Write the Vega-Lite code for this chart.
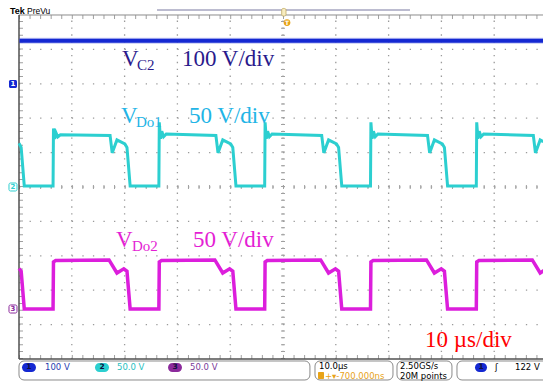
{
"$schema": "https://vega.github.io/schema/vega-lite/v6.json",
"width": 543, "height": 381, "autosize": {"type": "none"}, "padding": 0,
"background": "#ffffff",
"config": {"view": {"stroke": null}},
"datasets": {
"c2": [{"t":0.1,"v":9.25},{"t":99.3,"v":9.25}],
"do1": [{"t":0.0,"v":6.27},{"t":0.41,"v":6.15},{"t":1.0,"v":5.03},
{"t":6.45,"v":5.03},{"t":6.53,"v":6.7},{"t":6.75,"v":6.40},{"t":7.0,"v":6.58},{"t":7.35,"v":6.46},{"t":7.85,"v":6.52},{"t":17.25,"v":6.5},{"t":17.65,"v":5.99},{"t":18.55,"v":6.37},{"t":20.05,"v":6.25},{"t":20.45,"v":6.15},{"t":21.05,"v":5.03},
{"t":26.49,"v":5.03},{"t":26.57,"v":6.88},{"t":26.79,"v":6.40},{"t":27.04,"v":6.62},{"t":27.39,"v":6.46},{"t":27.89,"v":6.54},{"t":37.29,"v":6.5},{"t":37.69,"v":5.99},{"t":38.59,"v":6.37},{"t":40.09,"v":6.25},{"t":40.49,"v":6.15},{"t":41.09,"v":5.03},
{"t":46.53,"v":5.03},{"t":46.61,"v":6.88},{"t":46.83,"v":6.40},{"t":47.08,"v":6.62},{"t":47.43,"v":6.46},{"t":47.93,"v":6.54},{"t":57.33,"v":6.5},{"t":57.73,"v":5.99},{"t":58.63,"v":6.37},{"t":60.13,"v":6.25},{"t":60.53,"v":6.15},{"t":61.13,"v":5.03},
{"t":66.57,"v":5.03},{"t":66.65,"v":6.88},{"t":66.87,"v":6.40},{"t":67.12,"v":6.62},{"t":67.47,"v":6.46},{"t":67.97,"v":6.54},{"t":77.37,"v":6.5},{"t":77.77,"v":5.99},{"t":78.67,"v":6.37},{"t":80.17,"v":6.25},{"t":80.57,"v":6.15},{"t":81.17,"v":5.03},
{"t":86.61,"v":5.03},{"t":86.69,"v":6.88},{"t":86.91,"v":6.40},{"t":87.16,"v":6.62},{"t":87.51,"v":6.46},{"t":88.01,"v":6.54},{"t":97.41,"v":6.5},{"t":97.81,"v":5.99},{"t":98.71,"v":6.37},{"t":100.21,"v":6.25}],
"do2": [{"t":0.0,"v":2.63},{"t":0.41,"v":2.55},{"t":1.0,"v":1.45},
{"t":6.45,"v":1.45},{"t":6.53,"v":2.82},{"t":6.95,"v":2.86},{"t":17.05,"v":2.88},{"t":18.55,"v":2.50},{"t":19.85,"v":2.62},{"t":20.45,"v":2.55},{"t":21.05,"v":1.45},
{"t":26.49,"v":1.45},{"t":26.57,"v":2.82},{"t":26.99,"v":2.86},{"t":37.09,"v":2.88},{"t":38.59,"v":2.50},{"t":39.89,"v":2.62},{"t":40.49,"v":2.55},{"t":41.09,"v":1.45},
{"t":46.53,"v":1.45},{"t":46.61,"v":2.82},{"t":47.03,"v":2.86},{"t":57.13,"v":2.88},{"t":58.63,"v":2.50},{"t":59.93,"v":2.62},{"t":60.53,"v":2.55},{"t":61.13,"v":1.45},
{"t":66.57,"v":1.45},{"t":66.65,"v":2.82},{"t":67.07,"v":2.86},{"t":77.17,"v":2.88},{"t":78.67,"v":2.50},{"t":79.97,"v":2.62},{"t":80.57,"v":2.55},{"t":81.17,"v":1.45},
{"t":86.61,"v":1.45},{"t":86.69,"v":2.82},{"t":87.11,"v":2.86},{"t":97.21,"v":2.88},{"t":98.71,"v":2.50},{"t":99.91,"v":2.62}],
"hgrid": [{"t":0,"t2":99.3,"v":1},{"t":0,"t2":99.3,"v":2},{"t":0,"t2":99.3,"v":3},{"t":0,"t2":99.3,"v":4},{"t":0,"t2":99.3,"v":5},{"t":0,"t2":99.3,"v":6},{"t":0,"t2":99.3,"v":7},{"t":0,"t2":99.3,"v":8},{"t":0,"t2":99.3,"v":9}],
"vgrid": [{"t":10,"v":0,"v2":10},{"t":20,"v":0,"v2":10},{"t":30,"v":0,"v2":10},{"t":40,"v":0,"v2":10},{"t":50,"v":0,"v2":10},{"t":60,"v":0,"v2":10},{"t":70,"v":0,"v2":10},{"t":80,"v":0,"v2":10},{"t":90,"v":0,"v2":10}],
"big": [{"t":19.5,"v":8.52,"label":"V","ch":"c2lab"},{"t":30.87,"v":8.52,"label":"100 V/div","ch":"c2lab"},
{"t":19.32,"v":6.86,"label":"V","ch":"do1lab"},{"t":32.2,"v":6.86,"label":"50 V/div","ch":"do1lab"},
{"t":18.37,"v":3.26,"label":"V","ch":"do2lab"},{"t":32.95,"v":3.26,"label":"50 V/div","ch":"do2lab"},
{"t":76.9,"v":0.35,"label":"10 µs/div","ch":"time"}],
"sub": [{"t":22.35,"v":8.40,"label":"C2","ch":"c2lab"},{"t":22.16,"v":6.74,"label":"Do1","ch":"do1lab"},{"t":21.4,"v":3.14,"label":"Do2","ch":"do2lab"}],
"boxes": [{"t":0,"t2":55.1,"v":-0.058,"v2":-0.61},{"t":56.06,"t2":70.83,"v":-0.058,"v2":-0.61},{"t":71.59,"t2":82.0,"v":-0.058,"v2":-0.61},{"t":82.95,"t2":100.6,"v":-0.058,"v2":-0.61}],
"ovals": [{"t":0.568,"t2":3.22,"v":-0.116,"v2":-0.378,"ch":"ch1"},{"t":14.39,"t2":17.05,"v":-0.116,"v2":-0.378,"ch":"ch2"},{"t":28.22,"t2":30.87,"v":-0.116,"v2":-0.378,"ch":"ch3m"},{"t":86.36,"t2":88.64,"v":-0.116,"v2":-0.378,"ch":"ch1"}],
"ovaltext": [{"t":1.89,"v":-0.247,"label":"1","ch":"ink"},{"t":15.72,"v":-0.247,"label":"2","ch":"ink"},{"t":29.55,"v":-0.247,"label":"3","ch":"ink"},{"t":87.5,"v":-0.247,"label":"1","ch":"ink"}],
"status": [{"t":4.92,"v":-0.247,"label":"100 V","ch":"ch1t"},{"t":18.56,"v":-0.247,"label":"50.0 V","ch":"ch2t"},{"t":32.39,"v":-0.247,"label":"50.0 V","ch":"ch3t"},
{"t":56.82,"v":-0.203,"label":"10.0µs","ch":"black"},{"t":57.95,"v":-0.48,"label":"+▾-700.000ns","ch":"orange"},
{"t":72.16,"v":-0.203,"label":"2.50GS/s","ch":"black"},{"t":72.16,"v":-0.48,"label":"20M points","ch":"black"},
{"t":90.15,"v":-0.247,"label":"ʃ","ch":"black"},{"t":93.94,"v":-0.247,"label":"122 V","ch":"black"}]
},
"encoding": {
"x": {"field":"t","type":"quantitative","scale":{"domain":[-3.598,99.242],"nice":false,"zero":false},"axis":null},
"y": {"field":"v","type":"quantitative","scale":{"domain":[-0.6395,10.436],"nice":false,"zero":false},"axis":null},
"color": {"field":"ch","type":"nominal","legend":null,"scale":{"domain":["c2lab","do1lab","do2lab","time","ch1","ch2","ch3m","ch1t","ch2t","ch3t","orange","black","ink","white"],"range":["#2a1a8c","#22b4e6","#e41ed4","#ff0000","#1428d2","#2ccfd0","#8c2a9c","#2840b0","#28c0c0","#7a3a9a","#e8a317","#000000","#101040","#ffffff"]}}
},
"layer": [
{"data":{"name":"hgrid"},"mark":{"type":"rule","strokeDash":[1.3,9.26],"strokeWidth":1.3},"encoding":{"x2":{"field":"t2"},"color":{"value":"#9a9a9a"}}},
{"data":{"name":"vgrid"},"mark":{"type":"rule","strokeDash":[1.3,5.58],"strokeWidth":1.3},"encoding":{"y2":{"field":"v2"},"color":{"value":"#9a9a9a"}}},
{"data":{"values":[{"t":0,"t2":99.3,"v":5}]},"mark":{"type":"rule","strokeDash":[1,9.56],"strokeWidth":4},"encoding":{"x2":{"field":"t2"},"color":{"value":"#a0a0a0"}}},
{"data":{"values":[{"t":50,"v":0,"v2":10}]},"mark":{"type":"rule","strokeDash":[1,5.88],"strokeWidth":4},"encoding":{"y2":{"field":"v2"},"color":{"value":"#a0a0a0"}}},
{"data":{"values":[{"t":0,"t2":99.3,"v":10}]},"mark":{"type":"rule","strokeDash":[1,9.56],"strokeWidth":4,"yOffset":2},"encoding":{"x2":{"field":"t2"},"color":{"value":"#a0a0a0"}}},
{"data":{"values":[{"t":0,"t2":99.3,"v":0}]},"mark":{"type":"rule","strokeDash":[1,9.56],"strokeWidth":4,"yOffset":-2},"encoding":{"x2":{"field":"t2"},"color":{"value":"#a0a0a0"}}},
{"data":{"values":[{"t":0,"v":0,"v2":10}]},"mark":{"type":"rule","strokeDash":[1,5.88],"strokeWidth":4,"xOffset":2},"encoding":{"y2":{"field":"v2"},"color":{"value":"#a0a0a0"}}},
{"data":{"values":[{"t":0,"t2":99.3,"v":10}]},"mark":{"type":"rule","strokeWidth":1},"encoding":{"x2":{"field":"t2"},"color":{"value":"#8c8c8c"}}},
{"data":{"values":[{"t":0,"t2":99.3,"v":0}]},"mark":{"type":"rule","strokeWidth":1.5},"encoding":{"x2":{"field":"t2"},"color":{"value":"#505050"}}},
{"data":{"values":[{"t":0,"v":0,"v2":10}]},"mark":{"type":"rule","strokeWidth":1.5},"encoding":{"y2":{"field":"v2"},"color":{"value":"#505050"}}},
{"data":{"name":"c2"},"mark":{"type":"line","strokeWidth":6,"opacity":0.25},"encoding":{"color":{"value":"#1428d2"}}},
{"data":{"name":"c2"},"mark":{"type":"line","strokeWidth":4},"encoding":{"color":{"value":"#1428d2"}}},
{"data":{"name":"do1"},"mark":{"type":"line","strokeWidth":3},"encoding":{"color":{"value":"#2ccfd0"}}},
{"data":{"name":"do2"},"mark":{"type":"line","strokeWidth":3.5},"encoding":{"color":{"value":"#dc1edc"}}},
{"data":{"name":"big"},"mark":{"type":"text","font":"Liberation Serif","fontSize":23,"align":"left","baseline":"alphabetic"},"encoding":{"text":{"field":"label"}}},
{"data":{"name":"sub"},"mark":{"type":"text","font":"Liberation Serif","fontSize":15,"align":"left","baseline":"alphabetic"},"encoding":{"text":{"field":"label"}}},
{"data":{"values":[{"t":-1.894,"t2":-0.379,"v":8.11,"v2":7.88,"ch":"ch1"}]},"mark":{"type":"rect","cornerRadius":1.5},"encoding":{"x2":{"field":"t2"},"y2":{"field":"v2"}}},
{"data":{"values":[{"t":-1.894,"t2":-0.379,"v":5.116,"v2":4.884,"ch":"ch2"},{"t":-1.894,"t2":-0.379,"v":1.57,"v2":1.337,"ch":"ch3m"}]},"mark":{"type":"rect","cornerRadius":1.5,"filled":false,"strokeWidth":1},"encoding":{"x2":{"field":"t2"},"y2":{"field":"v2"}}},
{"data":{"values":[{"t":-1.136,"v":7.994,"label":"1","ch":"white"},{"t":-1.136,"v":5.0,"label":"2","ch":"ch2"},{"t":-1.136,"v":1.453,"label":"3","ch":"ch3m"}]},"mark":{"type":"text","font":"DejaVu Sans","fontSize":7,"fontWeight":"bold","align":"center","baseline":"middle"},"encoding":{"text":{"field":"label"}}},
{"data":{"values":[{"t":-1.70,"v":10.03,"label":"Tek","ch":"black"}]},"mark":{"type":"text","font":"Liberation Sans","fontSize":9,"fontWeight":"bold","align":"left","baseline":"alphabetic"},"encoding":{"text":{"field":"label"}}},
{"data":{"values":[{"t":1.52,"v":10.03,"label":"PreVu","ch":"black"}]},"mark":{"type":"text","font":"Liberation Sans","fontSize":8.5,"align":"left","baseline":"alphabetic"},"encoding":{"text":{"field":"label"}}},
{"data":{"values":[{"t":26.14,"t2":74.05,"v":10.145}]},"mark":{"type":"rule","strokeWidth":1},"encoding":{"x2":{"field":"t2"},"color":{"value":"#7878a0"}}},
{"data":{"values":[{"t":49.75,"t2":50.57,"v":10.19,"v2":9.97}]},"mark":{"type":"rect","cornerRadius":1.5,"stroke":"#c0a860","strokeWidth":0.8},"encoding":{"x2":{"field":"t2"},"y2":{"field":"v2"},"color":{"value":"#f7ecc0"}}},
{"data":{"values":[{"t":50.76,"v":9.78}]},"mark":{"type":"point","shape":"circle","filled":true,"size":45,"opacity":1},"encoding":{"color":{"value":"#e8a317"}}},
{"data":{"values":[{"t":50.76,"v":9.78,"label":"T"}]},"mark":{"type":"text","font":"DejaVu Sans","fontSize":6,"fontWeight":"bold","align":"center","baseline":"middle"},"encoding":{"text":{"field":"label"},"color":{"value":"#ffffff"}}},
{"data":{"name":"boxes"},"mark":{"type":"rect","cornerRadius":5,"stroke":"#8a8a8a","strokeWidth":1},"encoding":{"x2":{"field":"t2"},"y2":{"field":"v2"},"color":{"value":"#ffffff"}}},
{"data":{"name":"ovals"},"mark":{"type":"rect","cornerRadius":4.5},"encoding":{"x2":{"field":"t2"},"y2":{"field":"v2"}}},
{"data":{"name":"ovaltext"},"mark":{"type":"text","font":"DejaVu Sans","fontSize":7.5,"fontWeight":"bold","align":"center","baseline":"middle"},"encoding":{"text":{"field":"label"}}},
{"data":{"values":[{"t":56.63,"t2":57.77,"v":-0.378,"v2":-0.581}]},"mark":{"type":"rect","cornerRadius":1},"encoding":{"x2":{"field":"t2"},"y2":{"field":"v2"},"color":{"value":"#e8a317"}}},
{"data":{"name":"status"},"mark":{"type":"text","font":"DejaVu Sans","fontSize":8.5,"align":"left","baseline":"middle"},"encoding":{"text":{"field":"label"}}}
]
}
